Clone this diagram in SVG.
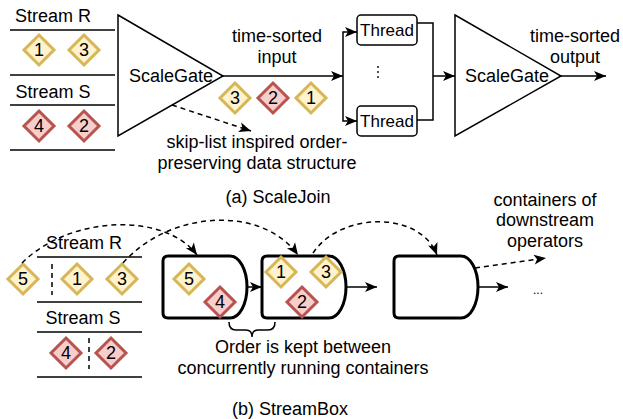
<svg xmlns="http://www.w3.org/2000/svg" width="623" height="419" viewBox="0 0 623 419">
<style>
text{font-family:"Liberation Sans",Arial,Helvetica,sans-serif;font-size:18px;fill:#000;text-anchor:middle;dominant-baseline:central}
.num{font-size:18px}
.thin{fill:none;stroke:#000;stroke-width:1.5}
.dyel{fill:#fff2cc;stroke:#d6b656;stroke-width:3}
.dred{fill:#f8cecc;stroke:#b85450;stroke-width:3}
.cont{fill:#fff;stroke:#000;stroke-width:3;stroke-linejoin:round}
.conn{fill:none;stroke:#000;stroke-width:1.5}
.dash{fill:none;stroke:#000;stroke-width:1.5;stroke-dasharray:5 4}
</style>
<defs>
<marker id="arr" markerUnits="userSpaceOnUse" markerWidth="14" markerHeight="12" refX="13" refY="6" orient="auto">
<path d="M1,1 L13,6 L1,11 L4,6 z" fill="#000"/>
</marker>
<path id="dm" d="M0,-15 L15,0 L0,15 L-15,0 z"/>
</defs>

<!-- (a) ScaleJoin -->
<g id="streamR_a">
<text x="53" y="16">Stream R</text>
<line x1="10" y1="30" x2="115" y2="30" class="thin"/>
<line x1="10" y1="75" x2="115" y2="75" class="thin"/>
</g>
<g id="streamS_a">
<text x="53" y="92">Stream S</text>
<line x1="10" y1="105" x2="115" y2="105" class="thin"/>
<line x1="10" y1="150" x2="115" y2="150" class="thin"/>
</g>
<g id="a_d1"><use href="#dm" x="39" y="50" class="dyel"/><text class="num" x="39" y="50">1</text></g>
<g id="a_d3"><use href="#dm" x="84" y="50" class="dyel"/><text class="num" x="84" y="50">3</text></g>
<g id="a_d4"><use href="#dm" x="39" y="126" class="dred"/><text class="num" x="39" y="126">4</text></g>
<g id="a_d2"><use href="#dm" x="84" y="126" class="dred"/><text class="num" x="84" y="126">2</text></g>

<g id="scalegate1">
<path d="M118,15 L223,76 L118,136 z" fill="#fff" stroke="#000" stroke-width="1.5"/>
<text x="171" y="76">ScaleGate</text>
</g>
<g id="thread1">
<rect x="357" y="15" width="60" height="30" rx="4" fill="#fff" stroke="#000" stroke-width="1.5"/>
<text x="387" y="30" style="font-size:17px">Thread</text>
</g>
<g id="thread2">
<rect x="357" y="106" width="60" height="30" rx="4" fill="#fff" stroke="#000" stroke-width="1.5"/>
<text x="387" y="121" style="font-size:17px">Thread</text>
</g>
<g id="vdots">
<circle cx="378" cy="67" r="0.9"/><circle cx="378" cy="72" r="0.9"/><circle cx="378" cy="77" r="0.9"/>
</g>
<g id="scalegate2">
<path d="M455,15 L561,76 L455,136 z" fill="#fff" stroke="#000" stroke-width="1.5"/>
<text x="507" y="76">ScaleGate</text>
</g>
<g id="a_flow_d3"><use href="#dm" x="235" y="98" class="dyel"/><text class="num" x="235" y="98">3</text></g>
<g id="a_flow_d2"><use href="#dm" x="273" y="98" class="dred"/><text class="num" x="273" y="98">2</text></g>
<g id="a_flow_d1"><use href="#dm" x="311" y="98" class="dyel"/><text class="num" x="311" y="98">1</text></g>

<g id="a_labels">
<text x="277" y="36">time-sorted</text>
<text x="277" y="57">input</text>
<text x="575" y="36">time-sorted</text>
<text x="575" y="57">output</text>
<text x="257" y="142">skip-list inspired order-</text>
<text x="257" y="163">preserving data structure</text>
<text x="278" y="197">(a) ScaleJoin</text>
</g>

<g id="a_connectors">
<path d="M223,76 L343,76" class="conn" marker-end="url(#arr)"/>
<path d="M343,76 L343,32 L357,32" class="conn" marker-end="url(#arr)"/>
<path d="M343,76 L343,121 L357,121" class="conn" marker-end="url(#arr)"/>
<path d="M417,23 L433,23 L433,120 L417,120" class="conn"/>
<path d="M433,76 L455,76" class="conn" marker-end="url(#arr)"/>
<path d="M561,76 L606,76" class="conn" marker-end="url(#arr)"/>
<path d="M172,105 L251,131" class="dash" marker-end="url(#arr)"/>
</g>

<!-- (b) StreamBox -->
<g id="streamR_b">
<text x="84" y="243">Stream R</text>
<line x1="37" y1="257" x2="142" y2="257" class="thin"/>
<line x1="52" y1="264" x2="52" y2="295" class="dash"/>
<line x1="37" y1="302" x2="142" y2="302" class="thin"/>
</g>
<g id="streamS_b">
<text x="83" y="318">Stream S</text>
<line x1="37" y1="332" x2="142" y2="332" class="thin"/>
<line x1="89" y1="338" x2="89" y2="369" class="dash"/>
<line x1="37" y1="377" x2="142" y2="377" class="thin"/>
</g>
<g id="b_d5"><use href="#dm" x="23" y="279" class="dyel"/><text class="num" x="23" y="279">5</text></g>
<g id="b_d1"><use href="#dm" x="77" y="279" class="dyel"/><text class="num" x="77" y="279">1</text></g>
<g id="b_d3"><use href="#dm" x="122" y="279" class="dyel"/><text class="num" x="122" y="279">3</text></g>
<g id="b_d4"><use href="#dm" x="66" y="353" class="dred"/><text class="num" x="66" y="353">4</text></g>
<g id="b_d2"><use href="#dm" x="111" y="353" class="dred"/><text class="num" x="111" y="353">2</text></g>

<g id="container1">
<path d="M168,256 L230,256 A17,31 0 0 1 230,318 L168,318 Q163,318 163,313 L163,261 Q163,256 168,256 z" class="cont"/>
<use href="#dm" x="189" y="279" class="dyel"/><text class="num" x="189" y="279">5</text>
<use href="#dm" x="220" y="302" class="dred"/><text class="num" x="220" y="302">4</text>
</g>
<g id="container2">
<path d="M267,256 L329,256 A17,31 0 0 1 329,318 L267,318 Q262,318 262,313 L262,261 Q262,256 267,256 z" class="cont"/>
<use href="#dm" x="281" y="272" class="dyel"/><text class="num" x="281" y="272">1</text>
<use href="#dm" x="326" y="272" class="dyel"/><text class="num" x="326" y="272">3</text>
<use href="#dm" x="302" y="302" class="dred"/><text class="num" x="302" y="302">2</text>
</g>
<g id="container3">
<path d="M399,256 L461,256 A17,31 0 0 1 461,318 L399,318 Q394,318 394,313 L394,261 Q394,256 399,256 z" class="cont"/>
</g>
<g id="brace">
<path d="M229,322 Q229,330 236,330 L246,330 Q252,330 252,337 Q252,330 258,330 L268,330 Q275,330 275,322" class="conn"/>
</g>
<g id="b_labels">
<text x="303" y="347">Order is kept between</text>
<text x="303" y="368">concurrently running containers</text>
<text x="290" y="409">(b) StreamBox</text>
<text x="545" y="200">containers of</text>
<text x="545" y="220">downstream</text>
<text x="545" y="241">operators</text>
<text x="538" y="290" style="font-size:12px">...</text>
</g>

<g id="b_connectors">
<path d="M247,287 L262,287" class="conn" marker-end="url(#arr)"/>
<path d="M346,287 L377,287" class="conn" marker-end="url(#arr)"/>
<path d="M478,287 L508,287" class="conn" marker-end="url(#arr)"/>
<path d="M22,263 C70,215 165,212 197,255" class="dash" marker-end="url(#arr)"/>
<path d="M123,263 C170,210 262,205 298,255" class="dash" marker-end="url(#arr)"/>
<path d="M313,253 C340,212 420,210 437,255" class="dash" marker-end="url(#arr)"/>
<path d="M475,268 L546,258" class="dash" marker-end="url(#arr)"/>
</g>
</svg>
